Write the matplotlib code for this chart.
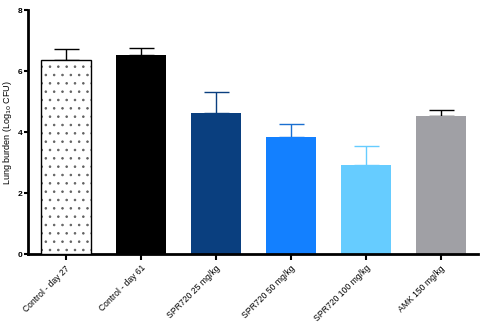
import numpy as np
import matplotlib.pyplot as plt

plt.rcParams['font.family'] = ['Liberation Sans', 'DejaVu Sans']
plt.rcParams['hatch.linewidth'] = 0.6

groups = ['Control - day 27', 'Control - day 61', 'SPR720 25 mg/kg',
          'SPR720 50 mg/kg', 'SPR720 100 mg/kg', 'AMK 150 mg/kg']
means = [6.38, 6.52, 4.61, 3.84, 2.92, 4.52]
errors = [0.33, 0.24, 0.69, 0.41, 0.61, 0.22]
colors = ['white', 'black', '#0a3f7f', '#1380ff', '#66ccff', '#a0a0a5']
err_colors = ['black', 'black', '#0a3f7f', '#1a6fd0', '#66ccff', 'black']

fig = plt.figure(figsize=(4.83, 3.23), dpi=100)
ax = fig.add_axes([0.058, 0.2136, 0.932, 0.755])

x = np.arange(len(groups))
for i in x:
    ax.errorbar(x[i], means[i], yerr=[[0], [errors[i]]], fmt='none',
                ecolor=err_colors[i], elinewidth=1.0, capsize=9, capthick=1.0, zorder=1)
bars = ax.bar(x, means, width=0.667, color=colors, zorder=2)
# dotted pattern on the first control bar, grey marks then black outline
ax.bar(x[0], means[0], width=0.667, color='white', edgecolor='#606060',
       hatch='..', linewidth=0, zorder=3)
ax.bar(x[0], means[0], width=0.667, fill=False, edgecolor='black',
       linewidth=1.0, zorder=4)

ax.set_xlim(-0.5, 5.5)
ax.set_ylim(0, 8)
ax.set_yticks([0, 2, 4, 6, 8])
ax.set_xticks(x)
ax.set_xticklabels(groups, rotation=45, ha='right', rotation_mode='anchor', fontsize=6.2)
ax.tick_params(axis='y', labelsize=6, width=1.5, length=3, pad=1)
ax.tick_params(axis='x', width=1.5, length=4, pad=3)
for t in ax.get_yticklabels():
    t.set_fontweight('bold')
ax.set_ylabel('Lung burden (Log$_{10}$ CFU)', fontsize=6.5, labelpad=3)

ax.spines['top'].set_visible(False)
ax.spines['right'].set_visible(False)
ax.spines['left'].set_linewidth(2)
ax.spines['bottom'].set_linewidth(2)

fig.savefig('out.png', dpi=100)
